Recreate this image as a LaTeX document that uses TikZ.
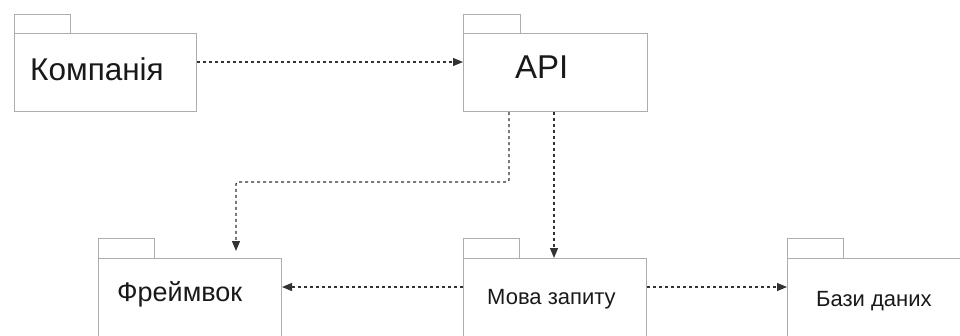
\documentclass[tikz,border=0pt]{standalone}
\usepackage{fontspec}
\setmainfont{Liberation Sans}
\usetikzlibrary{arrows.meta}
\begin{document}
\begin{tikzpicture}[x=1pt,y=-1pt,
  pkg/.style={draw=black!32, line width=1pt, rectangle, inner sep=0pt, anchor=north west},
  dep/.style={draw=black!80, dash pattern=on 3pt off 3pt, line width=1.2pt, -{Triangle[length=10pt,width=8pt]}},
  lbl/.style={inner sep=0pt, text=black!90}
]
\clip (0,0) rectangle (960,335);
% Kompaniya
\node[pkg, minimum width=56pt, minimum height=19pt] (kt) at (14,14) {};
\node[pkg, minimum width=182pt, minimum height=78pt] (k) at (14,33) {};
\node[lbl, anchor=base west, font=\fontsize{31.5}{31.5}\selectfont] (kl) at (30,80) {Компанія};
% API
\node[pkg, minimum width=57pt, minimum height=19pt] (at) at (463,14) {};
\node[pkg, minimum width=184pt, minimum height=78pt] (a) at (463,33) {};
\node[lbl, anchor=base west, font=\fontsize{33}{33}\selectfont] (al) at (515,78) {API};
% Framework
\node[pkg, minimum width=56pt, minimum height=20pt] (ft) at (98,238) {};
\node[pkg, minimum width=183pt, minimum height=100pt] (f) at (98,258) {};
\node[lbl, anchor=base west, font=\fontsize{27}{27}\selectfont] (fl) at (117,301) {Фреймвок};
% Mova zapytu
\node[pkg, minimum width=56pt, minimum height=20pt] (mt) at (463,238) {};
\node[pkg, minimum width=183pt, minimum height=100pt] (m) at (463,258) {};
\node[lbl, anchor=base west, font=\fontsize{22}{22}\selectfont] (ml) at (487,304) {Мова запиту};
% Bazy danykh
\node[pkg, minimum width=56pt, minimum height=20pt] (bt) at (787,238) {};
\node[pkg, minimum width=200pt, minimum height=100pt] (b) at (787,258) {};
\node[lbl, anchor=base west, font=\fontsize{22}{22}\selectfont] (bl) at (816,306) {Бази даних};
% connectors
\draw[dep] (k.east |- 0,62) -- (a.west |- 0,62);
\draw[dep, rounded corners=2pt, shorten >=7pt] (a.south -| 509,0) |- (236,182) -- (f.north -| 236,0);
\draw[dep] (a.south -| 554,0) -- (m.north -| 554,0);
\draw[dep] (m.west |- 0,287) -- (f.east |- 0,287);
\draw[dep] (m.east |- 0,287) -- (b.west |- 0,287);
\end{tikzpicture}
\end{document}
